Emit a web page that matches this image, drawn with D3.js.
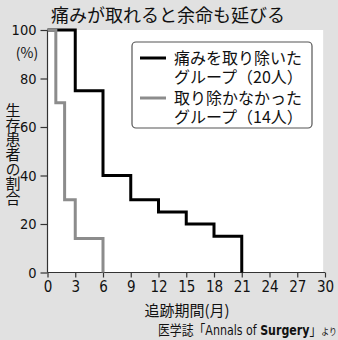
<!DOCTYPE html>
<html><head><meta charset="utf-8">
<script src="https://cdn.jsdelivr.net/npm/d3@7"></script>
<style>
html,body{margin:0;padding:0;background:#e1e1e1;}
svg{display:block;}
</style></head>
<body>
<script>
const title = "痛みが取れると余命も延びる";
const xTicks = [0,3,6,9,12,15,18,21,24,27,30];
const yTicks = [0,20,40,60,80,100];
const treatedTimes = [0, 3, 6, 9, 12, 15, 18, 21];
const treatedSurvival = [100, 75, 40, 30, 25, 20, 15, 0];
const untreatedTimes = [0, 0.9, 1.85, 3, 6];
const untreatedSurvival = [100, 70, 30, 14, 0];
const legendLines = [["痛みを取り除いた","グループ（20人）"],["取り除かなかった","グループ（14人）"]];
const yTitle = "生存患者の割合";
const xTitle = "追跡期間(月)";
const sourceParts = ["医学誌", "「", "Annals\u00a0of\u00a0", "Surgery", "」", "より"];

const W = 338, H = 340;
const svg = d3.select("body").append("svg").attr("width", W).attr("height", H);
svg.append("rect").attr("width", W).attr("height", H).attr("fill", "#e1e1e1");

const x = d3.scaleLinear().domain([0,30]).range([47.5, 325]);
const y = d3.scaleLinear().domain([0,100]).range([272.5, 30]);

const narrow = "'DejaVu Sans Condensed','Liberation Sans Narrow',sans-serif";
const jp = "'Noto Sans CJK JP','Noto Sans',sans-serif";

// title
svg.append("text").attr("x", 168).attr("y", 22).attr("text-anchor","middle")
  .attr("font-family", jp).attr("font-size", 18).attr("fill","#111").text(title);

// plot background
svg.append("rect").attr("x", x(0)).attr("y", y(100)).attr("width", x(29.8)-x(0)).attr("height", y(0)-y(100)).attr("fill","#fff");

// axes
const gx = svg.append("g").attr("transform", `translate(0,${y(0)})`)
  .call(d3.axisBottom(x).tickValues(xTicks).tickSize(5).tickPadding(4));
const gy = svg.append("g").attr("transform", `translate(${x(0)},0)`)
  .call(d3.axisLeft(y).tickValues(yTicks).tickSize(7).tickPadding(4));
[gx, gy].forEach(g => {
  g.selectAll("path").attr("stroke","#333").attr("stroke-width",1.2);
  g.selectAll("line").attr("stroke","#333").attr("stroke-width",1.2);
  g.selectAll("text").attr("font-family", narrow).attr("font-stretch","condensed").attr("fill","#111");
});
gx.selectAll("text").attr("font-size", 15);
gy.selectAll("text").attr("font-size", 14.5);
gx.select(".domain").attr("d", `M${x(0)},0H${x(30)}`);
gy.select(".domain").attr("d", `M0,${y(0)}V${y(100)}`);

svg.append("text").attr("x", 27).attr("y", 58).attr("text-anchor","middle")
  .attr("font-family", jp).attr("font-size", 14).attr("fill","#111").text("(%)");

// y title vertical
svg.append("text").attr("x", 13).attr("y", 103).attr("writing-mode","tb")
  .attr("font-family", jp).attr("font-size", 15).attr("letter-spacing", -0.4).attr("fill","#111").text(yTitle);

// x title
svg.append("text").attr("x", 187).attr("y", 316).attr("text-anchor","middle")
  .attr("font-family", jp).attr("font-size", 15).attr("fill","#111").text(xTitle);

// source: pieces laid out side by side, then condensed to fit
const srcStyles = [
  {f: jp, s: 13.5, w: "normal"},
  {f: jp, s: 13.5, w: "normal"},
  {f: narrow, s: 14, w: "normal"},
  {f: narrow, s: 14, w: "bold"},
  {f: jp, s: 13.5, w: "normal"},
  {f: jp, s: 9, w: "normal"}
];
const srcG = svg.append("g");
let cx = 0;
sourceParts.forEach((t, i) => {
  const st = srcStyles[i];
  const el = srcG.append("text").attr("x", cx).attr("y", 0)
    .attr("font-family", st.f).attr("font-size", st.s).attr("font-weight", st.w)
    .attr("fill", "#111").text(t);
  if (st.f === narrow) el.attr("font-stretch", "condensed");
  cx += el.node().getComputedTextLength();
});
const srcScale = 179 / cx;
srcG.attr("transform", `translate(158,335) scale(${srcScale},1)`);

// lines
const line = d3.line().curve(d3.curveStepAfter).x(d => x(d[0])).y(d => y(d[1]));
const treated = treatedTimes.map((t,i) => [t, treatedSurvival[i]]);
const untreated = untreatedTimes.map((t,i) => [t, untreatedSurvival[i]]);
svg.append("path").attr("d", line(treated)).attr("fill","none").attr("stroke","#000").attr("stroke-width",3);
svg.append("path").attr("d", line(untreated)).attr("fill","none").attr("stroke","#8c8c8c").attr("stroke-width",3);

// legend
svg.append("rect").attr("x", 132).attr("y", 42).attr("width", 180).attr("height", 86).attr("rx", 4)
  .attr("fill","#fff").attr("stroke","#555").attr("stroke-width",1.2);
const colors = ["#000","#8c8c8c"];
legendLines.forEach((ls, i) => {
  const cy = 58 + i*40;
  svg.append("line").attr("x1",140).attr("x2",166).attr("y1",cy).attr("y2",cy)
    .attr("stroke", colors[i]).attr("stroke-width",3);
  ls.forEach((t, j) => {
    svg.append("text").attr("x", 174).attr("y", cy + j*19.5).attr("dy","0.36em")
      .attr("font-family", jp).attr("font-size", 16).attr("fill","#111").text(t);
  });
});
</script>
</body></html>
